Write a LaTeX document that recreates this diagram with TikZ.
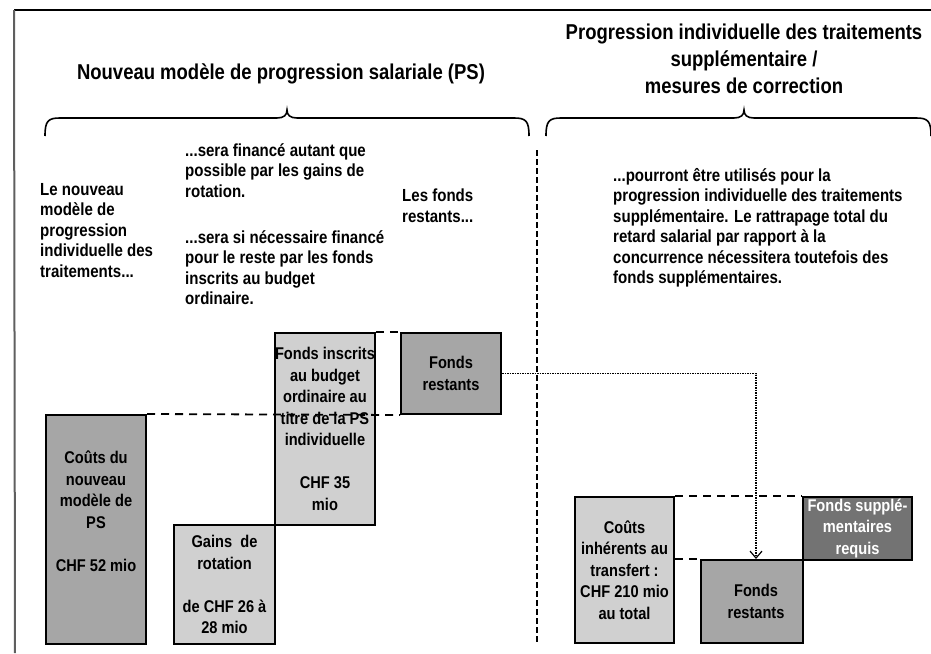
\documentclass[tikz,border=0pt]{standalone}
\usepackage{fontspec}
\setmainfont{Liberation Sans}[FakeStretch=0.86]
\usetikzlibrary{arrows.meta}

\definecolor{midgray}{HTML}{A6A6A6}
\definecolor{palegray}{HTML}{D0D0D0}
\definecolor{darkfill}{HTML}{737373}
\definecolor{framegray}{HTML}{5F5F5F}

\begin{document}
\begin{tikzpicture}[
  x=1pt, y=-1pt,
  box/.style={draw, line width=2pt, inner sep=0pt, anchor=north west, align=center,
    font=\bfseries\fontsize{17pt}{21.5pt}\selectfont},
  txt/.style={anchor=north west, align=left, inner sep=0pt,
    font=\bfseries\fontsize{17.5pt}{20.5pt}\selectfont},
  heading/.style={align=center, inner sep=0pt, font=\bfseries\fontsize{21.5pt}{27pt}\selectfont},
  guide/.style={line width=1.8pt, dash pattern=on 8pt off 6pt},
  sep/.style={line width=1.6pt, dash pattern=on 6pt off 3pt},
  flow/.style={line width=1.5pt, densely dotted, -{Straight Barb[length=7pt,width=12pt,line width=1.2pt]}}
]
\useasboundingbox (0,0) rectangle (931,653);

% frame
\coordinate (frametl) at (14,10);
\coordinate (frametr) at (931,10);
\coordinate (framebl) at (15,653);
\draw[line width=2.5pt] (frametl) -- (frametr);
\draw[framegray, line width=2pt] (frametl) -- (framebl);

% headings
\node[heading] (psnew) at (281,74) {Nouveau modèle de progression salariale (PS)};
\node[heading] (pssup) at (744,59) {Progression individuelle des traitements\\supplémentaire /\\mesures de correction};

% braces
\draw[line width=1.6pt] (45,136) .. controls (45,121) and (48,118) .. (60,118) -- (277,118)
  .. controls (284,118) and (287,115) .. (287,110) .. controls (287,115) and (290,118) .. (297,118)
  -- (514,118) .. controls (526,118) and (529,121) .. (529,136);
\draw[line width=1.6pt] (546,136) .. controls (546,121) and (549,118) .. (561,118) -- (734,118)
  .. controls (741,118) and (744,115) .. (744,110) .. controls (744,115) and (747,118) .. (754,118)
  -- (916,118) .. controls (928,118) and (931,121) .. (931,136);

% separator
\coordinate (septop) at (537,150);
\coordinate (sepbot) at (537,642);
\draw[sep] (septop) -- (sepbot);

% texts
\node[txt] (intro) at (40,183) {Le nouveau\\modèle de\\progression\\individuelle des\\traitements...};
\node[txt] (rotfin) at (185,143) {...sera financé autant que\\possible par les gains de\\rotation.};
\node[txt] (budfin) at (185,230) {...sera si nécessaire financé\\pour le reste par les fonds\\inscrits au budget\\ordinaire.};
\node[txt] (resttxt) at (402,189) {Les fonds\\restants...};
\node[txt] (usetxt) at (613,168) {...pourront être utilisés pour la\\progression individuelle des traitements\\supplémentaire. Le rattrapage total du\\retard salarial par rapport à la\\concurrence nécessitera toutefois des\\fonds supplémentaires.};

% left bars
\node[box, fill=midgray, minimum width=100pt, minimum height=229pt] (costps) at (45,414)
  {Coûts du\\nouveau\\modèle de\\PS\\[21.5pt]CHF 52 mio\\[15pt]\mbox{}};
\node[box, fill=palegray, minimum width=101pt, minimum height=119pt] (rotgain) at (173,524)
  {Gains\ \ de\\rotation\\[21.5pt]de CHF 26 à\\28 mio};
\node[box, fill=palegray, minimum width=99pt, minimum height=192pt] (budget) at (274,332)
  {Fonds inscrits\\au budget\\ordinaire au\\titre de la PS\\individuelle\\[21.5pt]CHF 35\\mio};
\node[box, fill=midgray, minimum width=100pt, minimum height=81pt] (restps) at (400,332)
  {Fonds\\restants};

% right bars
\node[box, fill=palegray, minimum width=99pt, minimum height=146pt] (transfer) at (574,496)
  {Coûts\\inhérents au\\transfert :\\CHF 210 mio\\au total};
\node[box, fill=midgray, minimum width=102pt, minimum height=83pt] (restsup) at (700,559)
  {\hspace*{8pt}Fonds\\\hspace*{8pt}restants};
\node[box, fill=darkfill, text=white, minimum width=109pt, minimum height=63pt] (extra) at (802,496)
  {Fonds supplé-\\mentaires\\requis};

% connectors
\draw[guide] (costps.north east) -- (restps.south west);
\draw[guide] (budget.north east) -- (restps.north west);
\draw[guide] (transfer.north east) -- (extra.north west);
\draw[guide] (transfer.east |- restsup.north) -- (restsup.north west);
\draw[flow] (restps.east) -| ([xshift=4pt]restsup.north);
\end{tikzpicture}
\end{document}
